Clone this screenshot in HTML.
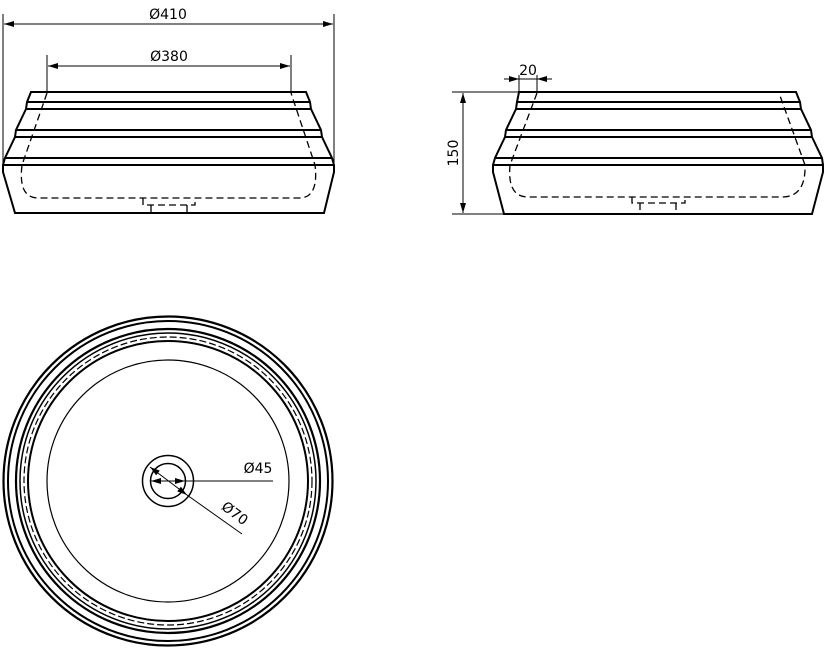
<!DOCTYPE html>
<html><head><meta charset="utf-8"><style>html,body{margin:0;padding:0;background:#fff}svg{display:block}</style></head><body>
<svg width="832" height="650" viewBox="0 0 832 650" xmlns="http://www.w3.org/2000/svg" font-family="DejaVu Sans, Liberation Sans, sans-serif" font-size="14">
<defs><marker id="a" markerWidth="10" markerHeight="6" refX="10" refY="3" orient="auto-start-reverse" markerUnits="userSpaceOnUse"><path d="M0,0 L10,3 L0,6z" fill="#000"/></marker></defs>
<g stroke="#000" fill="none">
<line x1="3" y1="14" x2="3" y2="165" stroke-width="1"/>
<line x1="334" y1="14" x2="334" y2="165" stroke-width="1"/>
<line x1="4" y1="24" x2="333" y2="24" stroke-width="1" marker-start="url(#a)" marker-end="url(#a)"/>
<line x1="47" y1="55" x2="47" y2="93" stroke-width="1"/>
<line x1="291" y1="55" x2="291" y2="93" stroke-width="1"/>
<line x1="48" y1="66" x2="290" y2="66" stroke-width="1" marker-start="url(#a)" marker-end="url(#a)"/>
<g stroke-width="2">
<path d="M31,92 L306,92 L310,102 L311,109 L321,130 L322,137 L332,158 L334,165 L334,172 L324,213 L15,213 L3,172 L3,165 L5,158 L15,137 L16,130 L26,109 L27,102 Z"/>
<line x1="27" y1="102" x2="310" y2="102"/><line x1="26" y1="109" x2="311" y2="109"/>
<line x1="16" y1="130" x2="321" y2="130"/><line x1="15" y1="137" x2="322" y2="137"/>
<line x1="5" y1="158" x2="332" y2="158"/><line x1="3" y1="165" x2="334" y2="165"/>
</g>
<g stroke-width="1.3" stroke-dasharray="7,4">
<path d="M47,93 L22,165 Q18,198 38,198 L299,198 Q319,198 315,165 L291,93"/>
<path d="M143,198 L143,205 L195,205 L195,198"/>
<line x1="151" y1="205" x2="151" y2="213"/><line x1="187" y1="205" x2="187" y2="213"/>
</g>
<line x1="452" y1="92" x2="519" y2="92" stroke-width="1"/>
<line x1="452" y1="214" x2="504" y2="214" stroke-width="1"/>
<line x1="463" y1="93" x2="463" y2="213" stroke-width="1" marker-start="url(#a)" marker-end="url(#a)"/>
<line x1="519" y1="75" x2="519" y2="92" stroke-width="1"/>
<line x1="537" y1="75" x2="537" y2="92" stroke-width="1"/>
<line x1="504" y1="79" x2="519" y2="79" stroke-width="1" marker-end="url(#a)"/>
<line x1="552" y1="79" x2="537" y2="79" stroke-width="1" marker-end="url(#a)"/>
<line x1="519" y1="79" x2="537" y2="79" stroke-width="1"/>
<g stroke-width="2">
<path d="M519,92 L796,92 L800,102 L801,109 L811,130 L812,137 L822,158 L823,165 L823,172 L812,214 L504,214 L493,172 L493,165 L495,158 L505,137 L506,130 L516,109 L517,102 Z"/>
<line x1="517" y1="102" x2="800" y2="102"/><line x1="516" y1="109" x2="801" y2="109"/>
<line x1="506" y1="130" x2="811" y2="130"/><line x1="505" y1="137" x2="812" y2="137"/>
<line x1="495" y1="158" x2="822" y2="158"/><line x1="493" y1="165" x2="823" y2="165"/>
</g>
<g stroke-width="1.3" stroke-dasharray="7,4">
<path d="M537,93 L510,165 Q507,197 528,197 L782,197 Q806,197 805,165 L779,93"/>
<path d="M632,197 L632,203 L685,203 L685,197"/>
<line x1="640" y1="203" x2="640" y2="214"/><line x1="676" y1="203" x2="676" y2="214"/>
</g>
<circle cx="168" cy="481" r="164.5" stroke-width="2.2"/>
<circle cx="168" cy="481" r="160" stroke-width="2"/>
<circle cx="168" cy="481" r="152" stroke-width="2.2"/>
<circle cx="168" cy="481" r="148" stroke-width="1.5"/>
<circle cx="168" cy="481" r="144" stroke-width="1.2" stroke-dasharray="7,3"/>
<circle cx="168" cy="481" r="140" stroke-width="2"/>
<circle cx="168" cy="481" r="121" stroke-width="1.2"/>
<circle cx="168" cy="481" r="25.5" stroke-width="1.5"/>
<circle cx="168" cy="481" r="17.5" stroke-width="1.5"/>
<line x1="151" y1="481" x2="185" y2="481" stroke-width="1" marker-start="url(#a)" marker-end="url(#a)"/>
<line x1="185" y1="481" x2="273" y2="481" stroke-width="1"/>
<line x1="150" y1="467" x2="187" y2="495" stroke-width="1" marker-start="url(#a)" marker-end="url(#a)"/>
<line x1="187" y1="495" x2="242" y2="534" stroke-width="1"/>
</g>
<g fill="#000">
<text x="168" y="19" text-anchor="middle">Ø410</text>
<text x="169" y="61" text-anchor="middle">Ø380</text>
<text x="528" y="75" text-anchor="middle">20</text>
<text transform="translate(458,153) rotate(-90)" text-anchor="middle">150</text>
<text x="258" y="473" text-anchor="middle">Ø45</text>
<text transform="translate(232,517) rotate(37)" text-anchor="middle">Ø70</text>
</g>
</svg>
</body></html>
